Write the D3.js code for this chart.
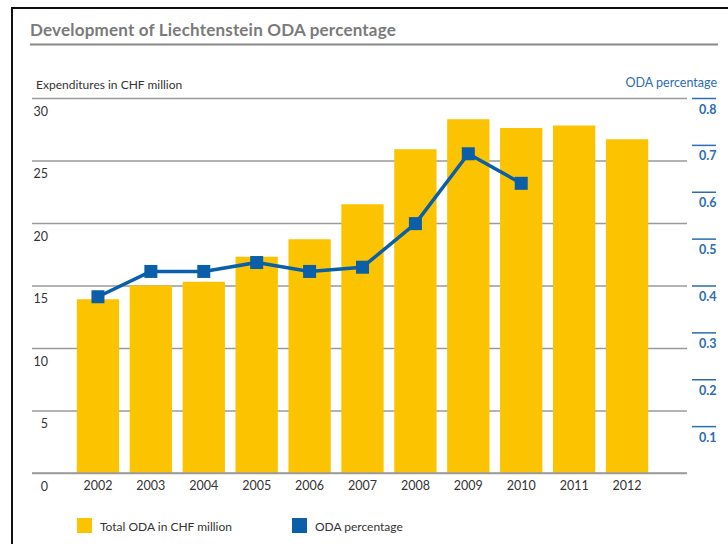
<!DOCTYPE html>
<html>
<head>
<meta charset="utf-8">
<script src="https://cdn.jsdelivr.net/npm/d3@7"></script>
<style>
  html, body { margin: 0; padding: 0; background: #fff; }
  svg { display: block; font-family: Lato, "Open Sans", sans-serif; }
</style>
</head>
<body>
<svg id="chart" width="728" height="544"></svg>
<script>
const years = ["2002","2003","2004","2005","2006","2007","2008","2009","2010","2011","2012"];
const totalODA = [13.9, 15.0, 15.3, 17.3, 18.7, 21.5, 25.9, 28.3, 27.6, 27.8, 26.7];
const odaPercentage = [0.376, 0.430, 0.430, 0.449, 0.430, 0.439, 0.532, 0.681, 0.618, null, null];
const leftTicks = [0, 5, 10, 15, 20, 25, 30];
const rightTicks = [0.1, 0.2, 0.3, 0.4, 0.5, 0.6, 0.7, 0.8];
const legendLabels = ["Total ODA in CHF million", "ODA percentage"];

const YELLOW = "#fcc400";
const BLUE = "#0a5fa8";
const BLUE_TXT = "#2b6cb3";
const GRID = "#9a9a9a";
const TXT = "#333";

const svg = d3.select("#chart");

// frame
svg.append("path")
  .attr("d", "M12,560 L12,8 L740,8")
  .attr("fill", "none").attr("stroke", "#111").attr("stroke-width", 2);

// title
svg.append("text")
  .attr("x", 30).attr("y", 36)
  .attr("fill", "#7a7a7a").attr("font-size", 17).attr("font-weight", 700)
  .attr("letter-spacing", 0.2)
  .text("Development of Liechtenstein ODA percentage");
svg.append("line")
  .attr("x1", 30).attr("x2", 718).attr("y1", 44.5).attr("y2", 44.5)
  .attr("stroke", "#888").attr("stroke-width", 2);

// axis titles
svg.append("text").attr("x", 36).attr("y", 89)
  .attr("fill", TXT).attr("font-size", 12).text("Expenditures in CHF million");
svg.append("text").attr("x", 717).attr("y", 87).attr("text-anchor", "end")
  .attr("fill", BLUE_TXT).attr("font-size", 12.5).text("ODA percentage");

const yL = d3.scaleLinear().domain([0, 30]).range([473, 98]);
const yR = d3.scaleLinear().domain([0, 0.8]).range([473, 98]);
const x = d3.scaleBand().domain(years).range([71.5, 653.5]).paddingInner(0.2).paddingOuter(0.1);

// left axis with gridlines
const gL = svg.append("g").attr("transform", "translate(32,0)")
  .call(d3.axisLeft(yL).tickValues(leftTicks).tickSize(-655).tickFormat(d3.format("d")));
gL.select(".domain").remove();
gL.selectAll(".tick line").attr("stroke", GRID).attr("stroke-width", 1.5);
gL.selectAll(".tick text")
  .attr("x", 16).attr("dy", 17).attr("text-anchor", "end")
  .attr("fill", TXT).attr("font-size", 12.5).attr("font-family", "Lato, sans-serif");

// right axis (blue short lines)
const gR = svg.append("g").attr("transform", "translate(692,0)")
  .call(d3.axisRight(yR).tickValues(rightTicks).tickSize(24).tickFormat(d3.format(".1f")));
gR.select(".domain").remove();
gR.selectAll(".tick line").attr("stroke", BLUE_TXT).attr("stroke-width", 1.5);
gR.selectAll(".tick text")
  .attr("x", 24.5).attr("dy", 15).attr("text-anchor", "end")
  .attr("fill", BLUE_TXT).attr("font-size", 12.5).attr("font-weight", 700)
  .attr("font-family", "Lato, sans-serif");

// bars
svg.append("g").selectAll("rect").data(years).join("rect")
  .attr("x", d => x(d))
  .attr("width", x.bandwidth())
  .attr("y", (d, i) => yL(totalODA[i]))
  .attr("height", (d, i) => yL(0) - yL(totalODA[i]))
  .attr("fill", YELLOW);

// redraw baseline on top
svg.append("line").attr("x1", 32).attr("x2", 687).attr("y1", yL(0)).attr("y2", yL(0))
  .attr("stroke", GRID).attr("stroke-width", 1.5);

// x axis labels
const gX = svg.append("g").attr("transform", `translate(0,${yL(0)})`)
  .call(d3.axisBottom(x).tickSize(0));
gX.select(".domain").remove();
gX.selectAll(".tick text").attr("dy", 0).attr("y", 17)
  .attr("fill", TXT).attr("font-size", 12.5).attr("font-family", "Lato, sans-serif");

// line
const pts = years.map((d, i) => ({ year: d, v: odaPercentage[i] }));
const line = d3.line()
  .defined(d => d.v != null)
  .x(d => x(d.year) + x.bandwidth() / 2)
  .y(d => yR(d.v));
svg.append("path").datum(pts)
  .attr("d", line).attr("fill", "none")
  .attr("stroke", BLUE).attr("stroke-width", 3.5).attr("stroke-linejoin", "round");
const ms = 13;
svg.append("g").selectAll("rect").data(pts.filter(d => d.v != null)).join("rect")
  .attr("x", d => x(d.year) + x.bandwidth() / 2 - ms / 2)
  .attr("y", d => yR(d.v) - ms / 2)
  .attr("width", ms).attr("height", ms)
  .attr("fill", BLUE);

// legend
const legend = svg.append("g");
const legItems = [
  { label: legendLabels[0], color: YELLOW, x: 77 },
  { label: legendLabels[1], color: BLUE, x: 292 }
];
legItems.forEach(it => {
  legend.append("rect").attr("x", it.x).attr("y", 518).attr("width", 15).attr("height", 15).attr("fill", it.color);
  legend.append("text").attr("x", it.x + 23).attr("y", 531)
    .attr("fill", TXT).attr("font-size", 12).text(it.label);
});
</script>
</body>
</html>
